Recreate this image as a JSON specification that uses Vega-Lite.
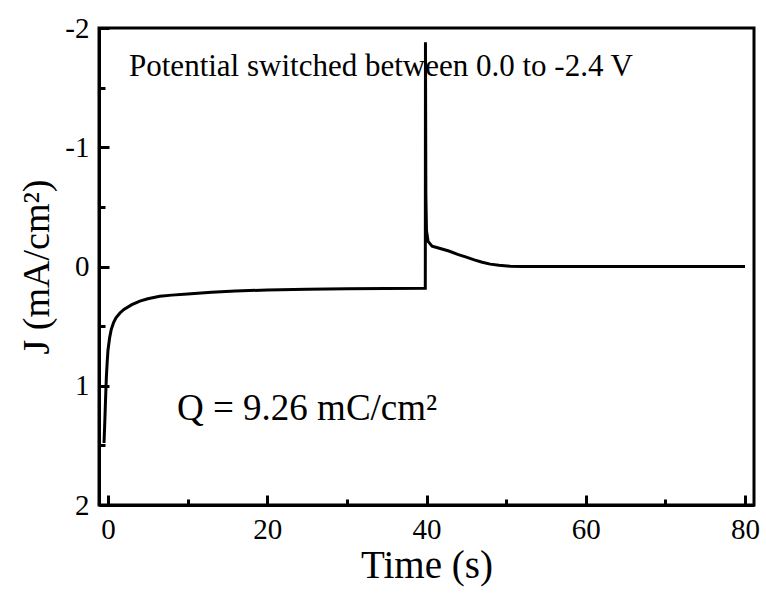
{
  "$schema": "https://vega.github.io/schema/vega-lite/v6.json",
  "width": 655,
  "height": 477,
  "autosize": "none",
  "padding": {"left": 99, "top": 28, "right": 12, "bottom": 88},
  "background": "white",
  "config": {
    "view": {"stroke": "black", "strokeWidth": 3},
    "font": "Liberation Serif",
    "axis": {"grid": false, "domainColor": "black", "domainWidth": 3, "tickColor": "black", "tickWidth": 3, "labelColor": "black", "titleColor": "black", "labelFont": "Liberation Serif", "titleFont": "Liberation Serif", "titleFontWeight": "normal"}
  },
  "datasets": {
    "curve": [
      {"t": -0.5, "J": 1.48}, {"t": -0.4, "J": 1.3}, {"t": -0.3, "J": 1.1}, {"t": -0.2, "J": 0.92},
      {"t": -0.1, "J": 0.8}, {"t": 0.0, "J": 0.7}, {"t": 0.2, "J": 0.6}, {"t": 0.4, "J": 0.53},
      {"t": 0.7, "J": 0.47}, {"t": 1.0, "J": 0.43}, {"t": 1.5, "J": 0.39}, {"t": 2.0, "J": 0.36},
      {"t": 3.0, "J": 0.32}, {"t": 4.0, "J": 0.29}, {"t": 5.0, "J": 0.27}, {"t": 6.5, "J": 0.25},
      {"t": 8.0, "J": 0.24}, {"t": 10.0, "J": 0.23}, {"t": 13.0, "J": 0.215}, {"t": 16.0, "J": 0.205},
      {"t": 20.0, "J": 0.197}, {"t": 25.0, "J": 0.19}, {"t": 30.0, "J": 0.186}, {"t": 35.0, "J": 0.184},
      {"t": 39.85, "J": 0.182}, {"t": 39.87, "J": -1.88}, {"t": 39.92, "J": -0.6}, {"t": 40.0, "J": -0.3},
      {"t": 40.2, "J": -0.21}, {"t": 40.7, "J": -0.17}, {"t": 41.5, "J": -0.155}, {"t": 42.8, "J": -0.13},
      {"t": 44.0, "J": -0.1}, {"t": 45.0, "J": -0.078}, {"t": 46.0, "J": -0.055}, {"t": 47.0, "J": -0.036},
      {"t": 48.0, "J": -0.02}, {"t": 49.1, "J": -0.01}, {"t": 50.5, "J": -0.003}, {"t": 52.0, "J": 0.0},
      {"t": 60.0, "J": 0.0}, {"t": 70.0, "J": 0.0}, {"t": 80.0, "J": 0.0}
    ],
    "notes": [
      {"t": 2.64, "J": -1.6, "label": "Potential switched between 0.0 to -2.4 V", "kind": "a"},
      {"t": 8.67, "J": 1.29, "label": "Q = 9.26 mC/cm²", "kind": "b"}
    ]
  },
  "layer": [
    {
      "data": {"name": "curve"},
      "mark": {"type": "line", "color": "black", "strokeWidth": 3},
      "encoding": {
        "x": {"field": "t", "type": "quantitative", "scale": {"domain": [-1.13, 81.13], "nice": false, "zero": false},
          "axis": {"values": [0, 20, 40, 60, 80], "tickSize": -10, "labelPadding": 20, "labelFont": "Liberation Serif", "labelFontSize": 29, "labelExpr": "'' + datum.value", "title": "Time (s)", "titleFont": "Liberation Serif", "titleFontSize": 39, "titlePadding": 2}},
        "y": {"field": "J", "type": "quantitative", "scale": {"domain": [-2, 2], "reverse": true, "nice": false, "zero": false},
          "axis": {"values": [-2, -1, 0, 1, 2], "tickSize": -10, "labelPadding": 20, "labelFont": "Liberation Serif", "labelFontSize": 29, "labelExpr": "'' + datum.value", "title": "J (mA/cm²)", "titleFont": "Liberation Serif", "titleFontSize": 38, "titlePadding": 8}}
      }
    },
    {
      "data": {"name": "notes"},
      "transform": [{"filter": "datum.kind == 'a'"}],
      "mark": {"type": "text", "align": "left", "baseline": "alphabetic", "fontSize": 31, "font": "Liberation Serif", "color": "black"},
      "encoding": {
        "x": {"field": "t", "type": "quantitative",
          "axis": {"values": [10, 30, 50, 70], "tickSize": -6, "labels": false, "domain": false, "title": null, "orient": "bottom"}},
        "y": {"field": "J", "type": "quantitative",
          "axis": {"values": [-1.5, -0.5, 0.5, 1.5], "tickSize": -6, "labels": false, "domain": false, "title": null, "orient": "left"}},
        "text": {"field": "label"}
      }
    },
    {
      "data": {"name": "notes"},
      "transform": [{"filter": "datum.kind == 'b'"}],
      "mark": {"type": "text", "align": "left", "baseline": "alphabetic", "fontSize": 37, "font": "Liberation Serif", "color": "black"},
      "encoding": {
        "x": {"field": "t", "type": "quantitative", "axis": null},
        "y": {"field": "J", "type": "quantitative", "axis": null},
        "text": {"field": "label"}
      }
    }
  ],
  "resolve": {"axis": {"x": "independent", "y": "independent"}}
}
